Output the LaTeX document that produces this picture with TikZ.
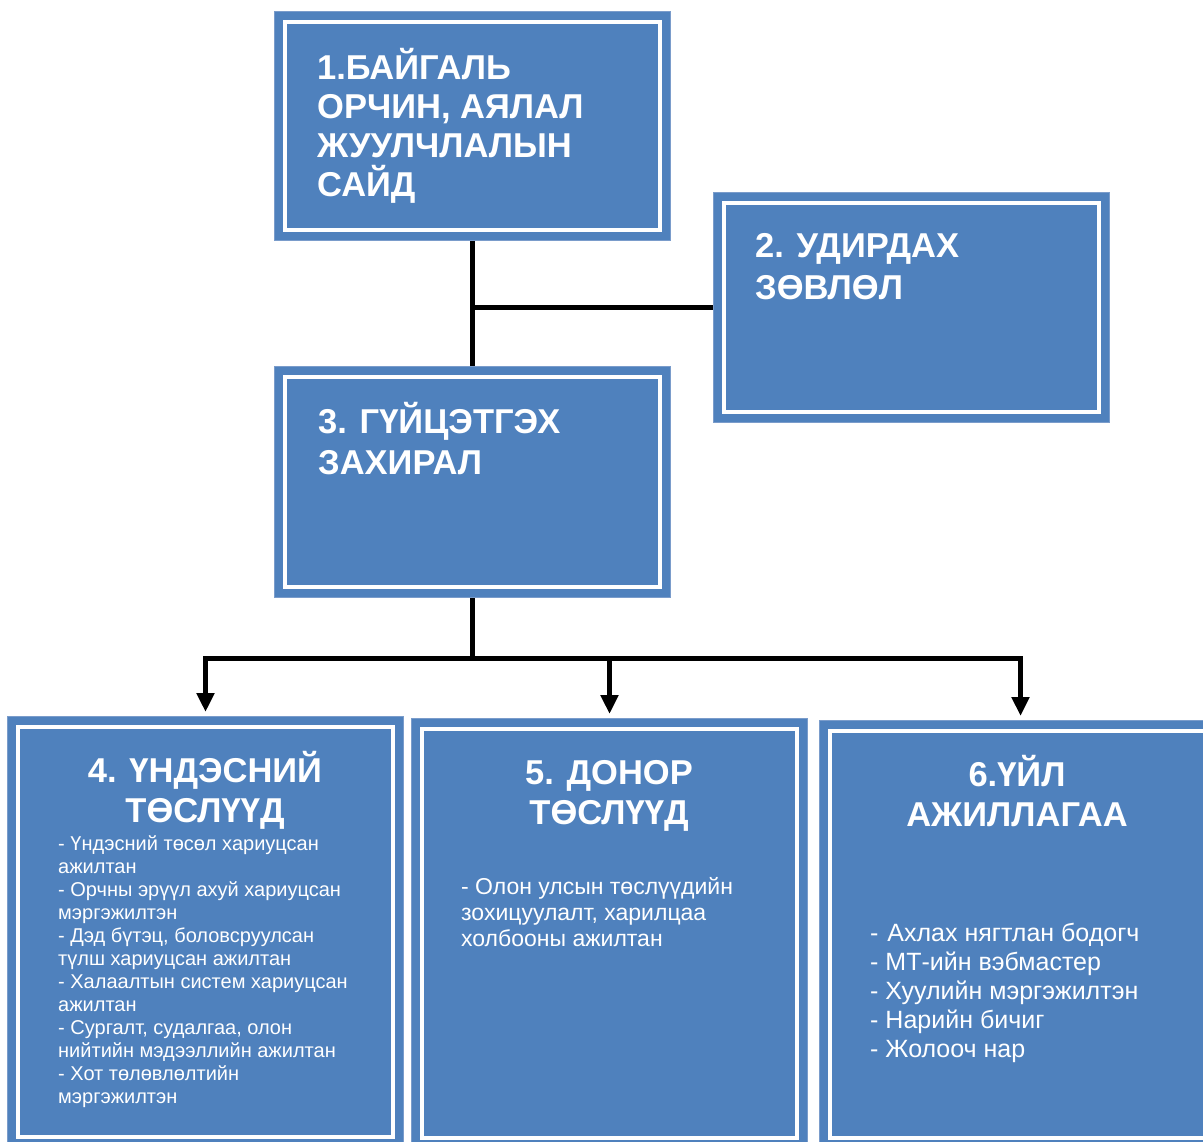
\documentclass[tikz,border=0pt]{standalone}
\usepackage{fontspec}
\setmainfont{Liberation Sans}
\usetikzlibrary{arrows.meta,calc}
\definecolor{boxblue}{HTML}{4F81BD}
\definecolor{boxedge}{HTML}{7A9CCB}
\begin{document}
\begin{tikzpicture}[x=1pt,y=-1pt,
  orgbox/.style={draw=boxedge, line width=1pt, fill=boxblue, anchor=north west,
    inner sep=0pt, minimum width=396pt, minimum height=#1,
    path picture={\draw[white,line width=3.5pt]
      ([shift={(10.5pt,-10.5pt)}]path picture bounding box.north west) rectangle
      ([shift={(-10.5pt,10.5pt)}]path picture bounding box.south east);}},
  ttl/.style={text=white, font=\bfseries\fontsize{34.5}{#1}\selectfont, inner sep=0pt, align=left, anchor=base west},
  ttlc/.style={text=white, font=\bfseries\fontsize{34.5}{40}\selectfont, inner sep=0pt, align=center, anchor=base},
  bodyA/.style={text=white, font=\fontsize{20}{23}\selectfont, inner sep=0pt, align=left, anchor=base west},
  bodyB/.style={text=white, font=\fontsize{23}{26}\selectfont, inner sep=0pt, align=left, anchor=base west},
  bodyC/.style={text=white, font=\fontsize{25}{29}\selectfont, inner sep=0pt, align=left, anchor=base west},
  conn/.style={draw=black, line width=5pt, line join=miter},
  arr/.style={conn, -{Triangle[width=17pt,length=19pt]}, shorten >=4pt}
]
\fill[white] (0,0) rectangle (1203,1142);
\clip (0,0) rectangle (1203,1142);

\node[orgbox=229pt] (b1) at (274,11) {};
\node[orgbox=230pt] (b2) at (713,192) {};
\node[orgbox=231pt] (b3) at (274,366) {};
\node[orgbox=431pt] (b4) at (7,716) {};
\node[orgbox=430pt] (b5) at (411,718) {};
\node[orgbox=428pt] (b6) at (819,720) {};

% base anchor = baseline of the last line
\node[ttl=39] (t1) at (317,197) {1.БАЙГАЛЬ\\ОРЧИН, АЯЛАЛ\\ЖУУЛЧЛАЛЫН\\САЙД};
\node[ttl=42] (t2) at (755,300) {2. УДИРДАХ\\ЗӨВЛӨЛ};
\node[ttl=41] (t3) at (318,474) {3. ГҮЙЦЭТГЭХ\\ЗАХИРАЛ};

\node[ttlc] (t4) at (205,822) {4. ҮНДЭСНИЙ\\ТӨСЛҮҮД};
\node[bodyA] (d4) at (58,1103) {- Үндэсний төсөл хариуцсан\\ажилтан\\- Орчны эрүүл ахуй хариуцсан\\мэргэжилтэн\\- Дэд бүтэц, боловсруулсан\\түлш хариуцсан ажилтан\\- Халаалтын систем хариуцсан\\ажилтан\\- Сургалт, судалгаа, олон\\нийтийн мэдээллийн ажилтан\\- Хот төлөвлөлтийн\\мэргэжилтэн};

\node[ttlc] (t5) at (609,824) {5. ДОНОР\\ТӨСЛҮҮД};
\node[bodyB] (d5) at (461,946) {- Олон улсын төслүүдийн\\зохицуулалт, харилцаа\\холбооны ажилтан};

\node[ttlc] (t6) at (1017,826) {6.ҮЙЛ\\АЖИЛЛАГАА};
\node[bodyC] (d6) at (870,1057) {- \kern2pt Ахлах нягтлан бодогч\\- МТ-ийн вэбмастер\\- Хуулийн мэргэжилтэн\\- Нарийн бичиг\\- Жолооч нар};

\draw[conn] (b1.south) -- (b3.north);
\draw[conn] (b2.west) -- (b2.west -| b1.south);
\coordinate (j) at ($(b3.south)+(0pt,-60pt)$);
\draw[conn] (b3.south) -- (j);
\draw[arr] (j) -| (b4.north);
\draw[arr] (j) -| (b5.north);
\draw[arr] (j) -| ([xshift=3pt]b6.north);
\end{tikzpicture}
\end{document}
